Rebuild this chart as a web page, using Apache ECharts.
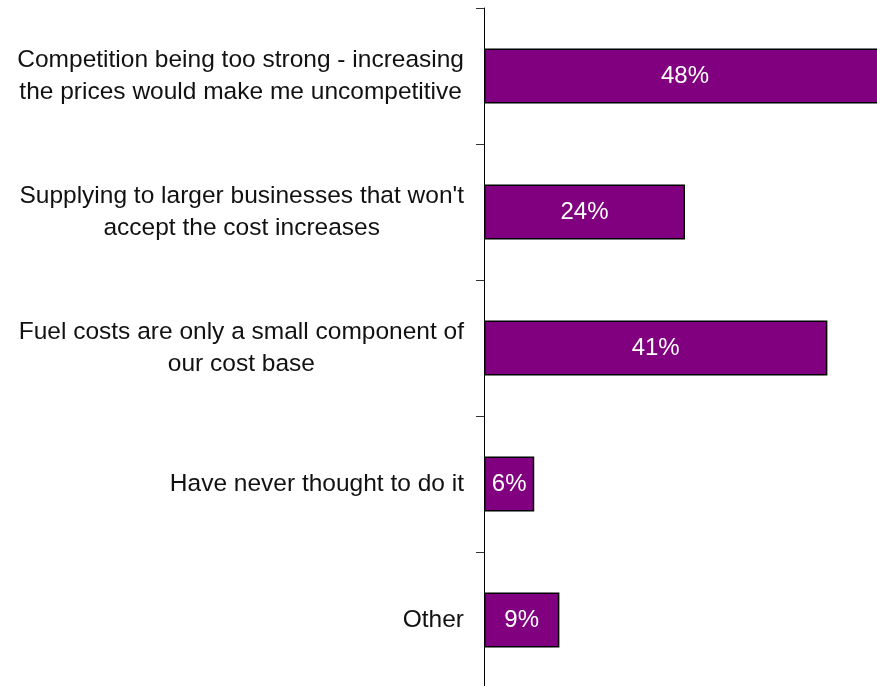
<!DOCTYPE html>
<html>
<head>
<meta charset="utf-8">
<title>Reasons for not passing on fuel cost increases</title>
<script src="https://cdn.jsdelivr.net/npm/echarts@6/dist/echarts.min.js"></script>
<style>
  html, body { margin: 0; padding: 0; background: #fff; }
  #chart { width: 877px; height: 686px; }
</style>
</head>
<body>
<div id="chart"></div>
<script>
// Survey answers (top to bottom) and the share of respondents giving each
const categories = [
  'Competition being too strong - increasing\nthe prices would make me uncompetitive',
  "Supplying to larger businesses that won't\naccept the cost increases",
  'Fuel costs are only a small component of\nour cost base',
  'Have never thought to do it',
  'Other'
];
const shares = [48, 24, 41, 6, 9];

const FONT = '"Liberation Sans", Arial, sans-serif';

const chart = echarts.init(document.getElementById('chart'), null, { renderer: 'canvas' });

chart.setOption({
  backgroundColor: '#ffffff',
  animation: false,
  // the plot runs slightly past the right and bottom edges of the canvas
  grid: { left: 484, top: 8, width: 402, height: 680, containLabel: false, outerBoundsMode: 'none' },
  xAxis: {
    type: 'value',
    min: 0,
    max: 48,
    show: false
  },
  yAxis: {
    type: 'category',
    data: categories,
    inverse: true,
    axisLine: { show: true, lineStyle: { color: '#000', width: 1 } },
    axisTick: { show: true, inside: false, length: 8, alignWithLabel: false, lineStyle: { color: '#333', width: 1 } },
    splitLine: { show: false },
    axisLabel: {
      margin: 20,
      formatter: function (value) {
        return value.split('\n').map(function (l) { return '{c|' + l + '}'; }).join('\n');
      },
      rich: {
        c: {
          fontFamily: FONT,
          fontSize: 24.5,
          lineHeight: 32,
          color: '#111',
          align: 'center'
        }
      }
    }
  },
  series: [{
    type: 'bar',
    data: shares,
    barWidth: 55,
    itemStyle: { color: '#800080', borderColor: '#000', borderWidth: 1.5 },
    label: {
      show: true,
      position: 'inside',
      color: '#fff',
      fontFamily: FONT,
      fontSize: 24,
      formatter: '{c}%'
    }
  }]
});
</script>
</body>
</html>
